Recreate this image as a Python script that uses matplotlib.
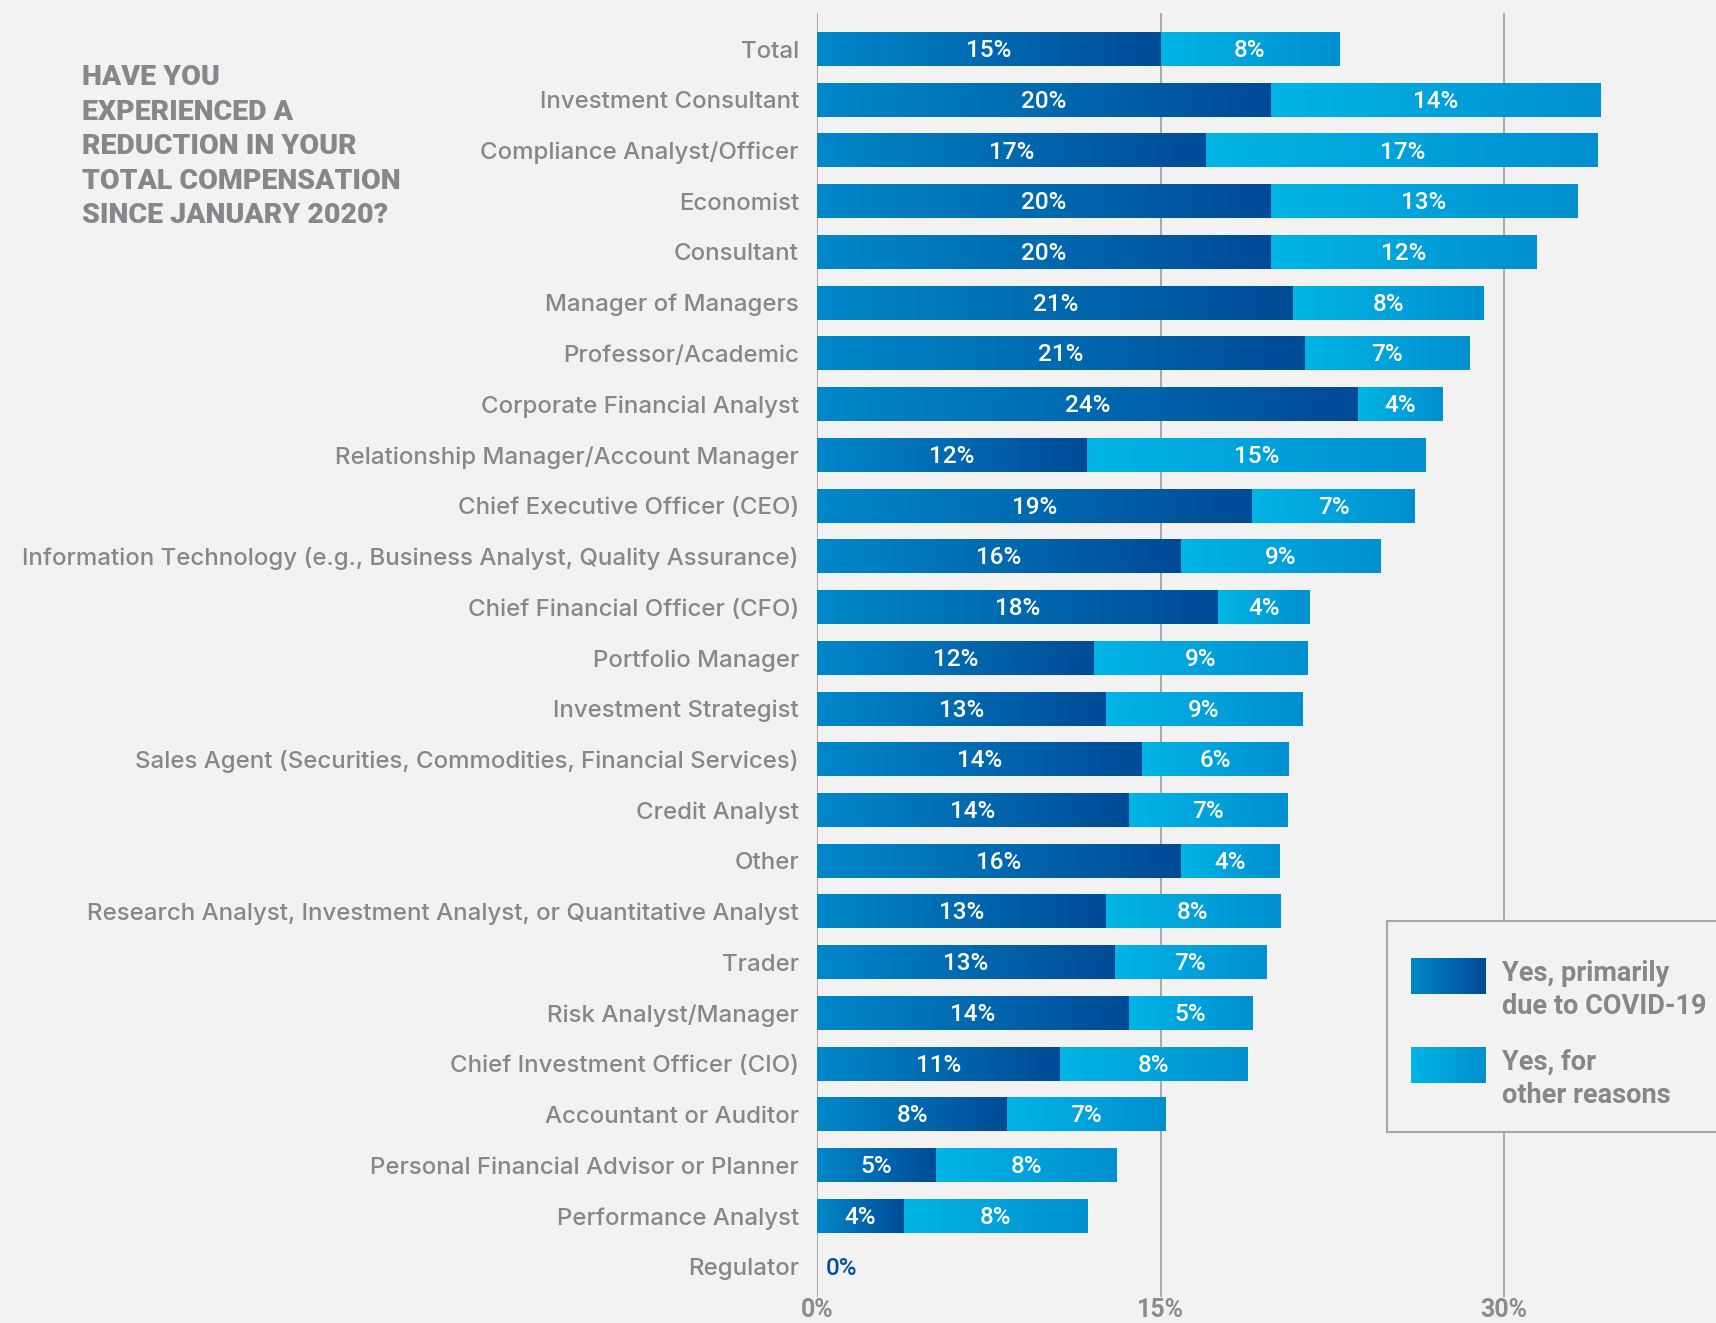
import matplotlib.pyplot as plt
import numpy as np
from matplotlib.colors import LinearSegmentedColormap
from matplotlib.patches import Rectangle

categories = [
    "Total", "Investment Consultant", "Compliance Analyst/Officer", "Economist",
    "Consultant", "Manager of Managers", "Professor/Academic",
    "Corporate Financial Analyst", "Relationship Manager/Account Manager",
    "Chief Executive Officer (CEO)",
    "Information Technology (e.g., Business Analyst, Quality Assurance)",
    "Chief Financial Officer (CFO)", "Portfolio Manager", "Investment Strategist",
    "Sales Agent (Securities, Commodities, Financial Services)", "Credit Analyst",
    "Other", "Research Analyst, Investment Analyst, or Quantitative Analyst",
    "Trader", "Risk Analyst/Manager", "Chief Investment Officer (CIO)",
    "Accountant or Auditor", "Personal Financial Advisor or Planner",
    "Performance Analyst", "Regulator",
]
covid = [15.0, 19.8, 17.0, 19.8, 19.8, 20.8, 21.3, 23.6, 11.8, 19.0, 15.9, 17.5,
         12.1, 12.6, 14.2, 13.6, 15.9, 12.6, 13.0, 13.6, 10.6, 8.3, 5.2, 3.8, 0.0]
other = [7.8, 14.4, 17.1, 13.4, 11.6, 8.3, 7.2, 3.7, 14.8, 7.1, 8.7, 4.0,
         9.3, 8.6, 6.4, 6.9, 4.3, 7.6, 6.6, 5.4, 8.2, 6.9, 7.9, 8.0, 0.0]
xticks = [0, 15, 30]
xtick_labels = ["0%", "15%", "30%"]

BG = "#F2F2F2"
GRAY = "#86868B"
dark_cmap = LinearSegmentedColormap.from_list("dark", ["#0088CA", "#004A96"])
light_cmap = LinearSegmentedColormap.from_list("light", ["#00B5E6", "#008FCF"])
grad = np.linspace(0, 1, 256).reshape(1, -1)

plt.rcParams["font.family"] = ["Roboto", "DejaVu Sans"]

fig = plt.figure(figsize=(17.16, 13.23), dpi=100, facecolor=BG)
ax = fig.add_axes([817 / 1716, 26 / 1323, 1 - 817 / 1716, 1 - 39 / 1323])
ax.set_facecolor(BG)

y = np.arange(len(categories))
h = 0.67


def paint(bars, cmap):
    for b in bars:
        w = b.get_width()
        if w <= 0:
            continue
        x0, yb, hh = b.get_x(), b.get_y(), b.get_height()
        im = ax.imshow(grad, cmap=cmap, extent=(x0, x0 + w, yb + hh, yb),
                       aspect="auto", interpolation="bilinear", zorder=3)
        im.set_clip_path(b)


b1 = ax.barh(y, covid, height=h, color="none", linewidth=0, zorder=3)
b2 = ax.barh(y, other, left=covid, height=h, color="none", linewidth=0, zorder=3)
paint(b1, dark_cmap)
paint(b2, light_cmap)

for i, (c, o) in enumerate(zip(covid, other)):
    if c + o == 0:
        ax.text(0.4, i + 0.03, "0%", color="#0A4E9B", fontsize=17.5,
                fontweight="medium", va="center", ha="left", zorder=4)
        continue
    ax.text(c / 2, i + 0.03, f"{round(c)}%", color="white", fontsize=17.5,
            fontweight="medium", va="center", ha="center", zorder=4)
    ax.text(c + o / 2, i + 0.03, f"{round(o)}%", color="white", fontsize=17.5,
            fontweight="medium", va="center", ha="center", zorder=4)

for t in xticks:
    ax.axvline(t, color="#A3A3A3", lw=1.3, zorder=1)

ax.set_xlim(0, 39.25)
ax.set_ylim(len(categories) - 1 + 0.6, -0.71)
ax.set_yticks(y, categories)
ax.set_xticks(xticks, xtick_labels)
ax.tick_params(axis="y", length=0, pad=13, labelsize=17.3, labelcolor=GRAY)
ax.tick_params(axis="x", length=0, pad=1, labelsize=18, labelcolor="#8C8C8C")
for lab in ax.get_yticklabels():
    lab.set_family(["Inter", "DejaVu Sans"])
    lab.set_fontweight("medium")
for lab in ax.get_xticklabels():
    lab.set_fontweight("bold")
for s in ax.spines.values():
    s.set_visible(False)

# title
fig.text(82 / 1716, 1 - 64 / 1323,
         "HAVE YOU\nEXPERIENCED A\nREDUCTION IN YOUR\nTOTAL COMPENSATION\nSINCE JANUARY 2020?",
         fontsize=20.5, fontweight="heavy", color=GRAY, va="top", ha="left",
         linespacing=1.36)

# legend box
fig.add_artist(Rectangle((1387 / 1716, 1 - 1132 / 1323), 0.3, 211 / 1323,
                         transform=fig.transFigure, facecolor=BG,
                         edgecolor="#A6A6A6", lw=1.5, zorder=2))
for (top, cmap, label) in [(958, dark_cmap, "Yes, primarily\ndue to COVID-19"),
                           (1047, light_cmap, "Yes, for\nother reasons")]:
    sw = fig.add_axes([1411 / 1716, 1 - (top + 36) / 1323, 75 / 1716, 36 / 1323],
                      zorder=3)
    sw.imshow(grad, cmap=cmap, aspect="auto")
    sw.axis("off")
    fig.text(1502 / 1716, 1 - (top + 32) / 1323, label, fontsize=19.5,
             fontweight="bold", color=GRAY, va="center", ha="left",
             linespacing=1.3, zorder=4)

fig.savefig("out.png", dpi=100, facecolor=BG)
